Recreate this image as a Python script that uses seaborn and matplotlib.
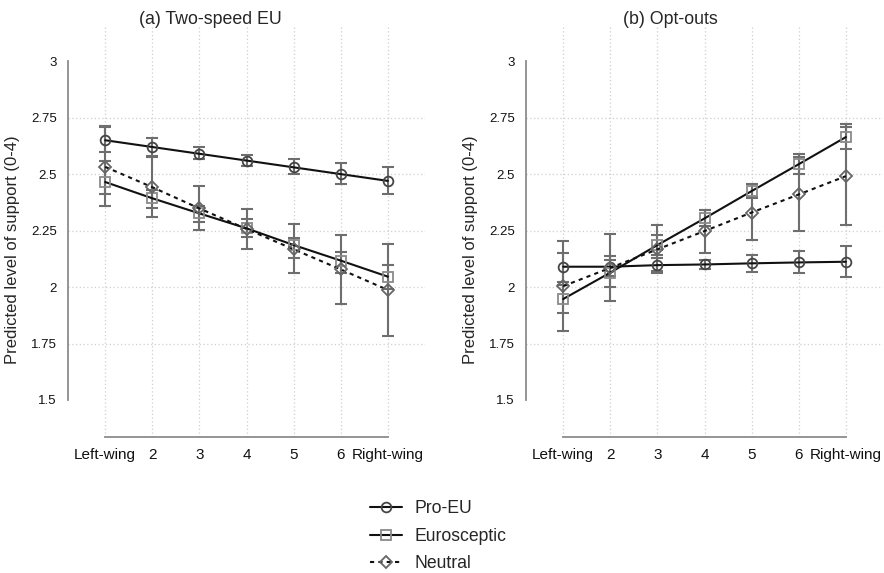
import matplotlib
matplotlib.use("Agg")
import matplotlib.pyplot as plt
from matplotlib.lines import Line2D
import seaborn as sns
import pandas as pd

# ideology scale 1..7
ideo = [1, 2, 3, 4, 5, 6, 7]
ideo_labels = ["Left-wing", "2", "3", "4", "5", "6", "Right-wing"]

# (a) Two-speed EU
pro_a = [2.65, 2.62, 2.59, 2.56, 2.53, 2.50, 2.47]
pro_a_lo = [2.60, 2.58, 2.565, 2.537, 2.50, 2.456, 2.41]
pro_a_hi = [2.71, 2.66, 2.62, 2.584, 2.565, 2.547, 2.532]
eus_a = [2.465, 2.393, 2.326, 2.26, 2.186, 2.117, 2.046]
eus_a_lo = [2.36, 2.35, 2.29, 2.22, 2.13, 2.06, 1.99]
eus_a_hi = [2.56, 2.43, 2.36, 2.30, 2.215, 2.156, 2.097]
neu_a = [2.532, 2.442, 2.348, 2.257, 2.167, 2.078, 1.987]
neu_a_lo = [2.41, 2.308, 2.252, 2.17, 2.06, 1.925, 1.783]
neu_a_hi = [2.712, 2.577, 2.448, 2.345, 2.279, 2.23, 2.19]

# (b) Opt-outs
pro_b = [2.09, 2.09, 2.097, 2.10, 2.105, 2.109, 2.112]
pro_b_lo = [2.024, 2.05, 2.07, 2.08, 2.068, 2.06, 2.046]
pro_b_hi = [2.149, 2.137, 2.13, 2.12, 2.142, 2.16, 2.18]
eus_b = [1.947, 2.064, 2.186, 2.304, 2.425, 2.544, 2.664]
eus_b_lo = [1.884, 2.0, 2.14, 2.27, 2.40, 2.50, 2.61]
eus_b_hi = [2.01, 2.12, 2.23, 2.34, 2.456, 2.588, 2.724]
neu_b = [2.004, 2.085, 2.167, 2.248, 2.33, 2.41, 2.491]
neu_b_lo = [1.805, 1.938, 2.06, 2.152, 2.21, 2.248, 2.274]
neu_b_hi = [2.205, 2.233, 2.274, 2.34, 2.393, 2.574, 2.707]

groups = ["Pro-EU", "Eurosceptic", "Neutral"]
yticks = [1.5, 1.75, 2, 2.25, 2.5, 2.75, 3]
ytick_labels = ["1.5", "1.75", "2", "2.25", "2.5", "2.75", "3"]

sns.set_theme(style="white")
plt.rcParams["font.family"] = ["Liberation Sans", "DejaVu Sans"]

styles = {
    "Pro-EU": dict(marker="o", ms=7, mec="#454545", ls="-"),
    "Eurosceptic": dict(marker="s", ms=6.5, mec="#8a8a8a", ls="-"),
    "Neutral": dict(marker="D", ms=6.5, mec="#666666", ls=(0, (2, 2))),
}

panels = [
    ("(a) Two-speed EU", [(pro_a, pro_a_lo, pro_a_hi), (eus_a, eus_a_lo, eus_a_hi), (neu_a, neu_a_lo, neu_a_hi)]),
    ("(b) Opt-outs", [(pro_b, pro_b_lo, pro_b_hi), (eus_b, eus_b_lo, eus_b_hi), (neu_b, neu_b_lo, neu_b_hi)]),
]

fig = plt.figure(figsize=(8.84, 5.73), dpi=100)
ax_pos = [[0.0769, 0.2373, 0.404, 0.719], [0.595, 0.2373, 0.404, 0.719]]
title_x = [0.2376, 0.758]
spine_col = "#8c8c8c"

for i, (title, series) in enumerate(panels):
    ax = fig.add_axes(ax_pos[i])
    for g, (vals, lo, hi) in zip(groups, series):
        st = styles[g]
        df = pd.DataFrame({"ideo": ideo, "pred": vals, "lo": lo, "hi": hi})
        ax.errorbar(df["ideo"], df["pred"],
                    yerr=[df["pred"] - df["lo"], df["hi"] - df["pred"]],
                    fmt="none", ecolor="#6e6e6e", elinewidth=1.5,
                    capsize=4, capthick=1.5, zorder=2)
        sns.lineplot(data=df, x="ideo", y="pred", ax=ax, color="#111111",
                     lw=1.5, linestyle=st["ls"], marker=st["marker"],
                     markersize=st["ms"], markerfacecolor="none",
                     markeredgecolor=st["mec"], markeredgewidth=1.3,
                     zorder=3)
    ax.set_xlim(0.21, 7.79)
    ax.set_ylim(1.336, 3.16)
    ax.set_xticks(ideo)
    ax.set_xticklabels(ideo_labels, fontsize=11)
    ax.set_yticks(yticks)
    ax.set_yticklabels(ytick_labels, fontsize=9.5)
    ax.set_xlabel("")
    ax.set_ylabel("Predicted level of support (0-4)", fontsize=12)
    ax.yaxis.set_label_coords(-0.133, 0.454)
    ax.grid(True, color="#cfcfcf", ls=(0, (1, 2)), lw=0.9)
    ygl = ax.get_ygridlines()
    ygl[0].set_visible(False)
    ygl[-1].set_visible(False)
    for s in ["top", "right"]:
        ax.spines[s].set_visible(False)
    ax.spines["left"].set_bounds(1.5, 3)
    ax.spines["bottom"].set_bounds(1, 7)
    for s in ["left", "bottom"]:
        ax.spines[s].set_color(spine_col)
        ax.spines[s].set_linewidth(1.3)
    ax.tick_params(axis="both", length=5, width=1.2, color=spine_col,
                   colors="#111111", pad=3)
    ax.tick_params(axis="both", color=spine_col)
    ax.set_facecolor("white")
    fig.text(title_x[i], 0.966, title, ha="center", va="center", fontsize=12.8)

handles = []
for g in groups:
    st = styles[g]
    handles.append(Line2D([0], [0], color="#111111", lw=1.5, linestyle=st["ls"],
                          marker=st["marker"], markersize=st["ms"],
                          markerfacecolor="none", markeredgecolor=st["mec"],
                          markeredgewidth=1.3))
fig.legend(handles, groups, loc="upper left", bbox_to_anchor=(0.4186, 0.127),
           frameon=False, fontsize=12.7, handlelength=1.8, handletextpad=0.7,
           labelspacing=0.6, borderpad=0, borderaxespad=0)

fig.savefig("out.png", dpi=100, facecolor="white")
